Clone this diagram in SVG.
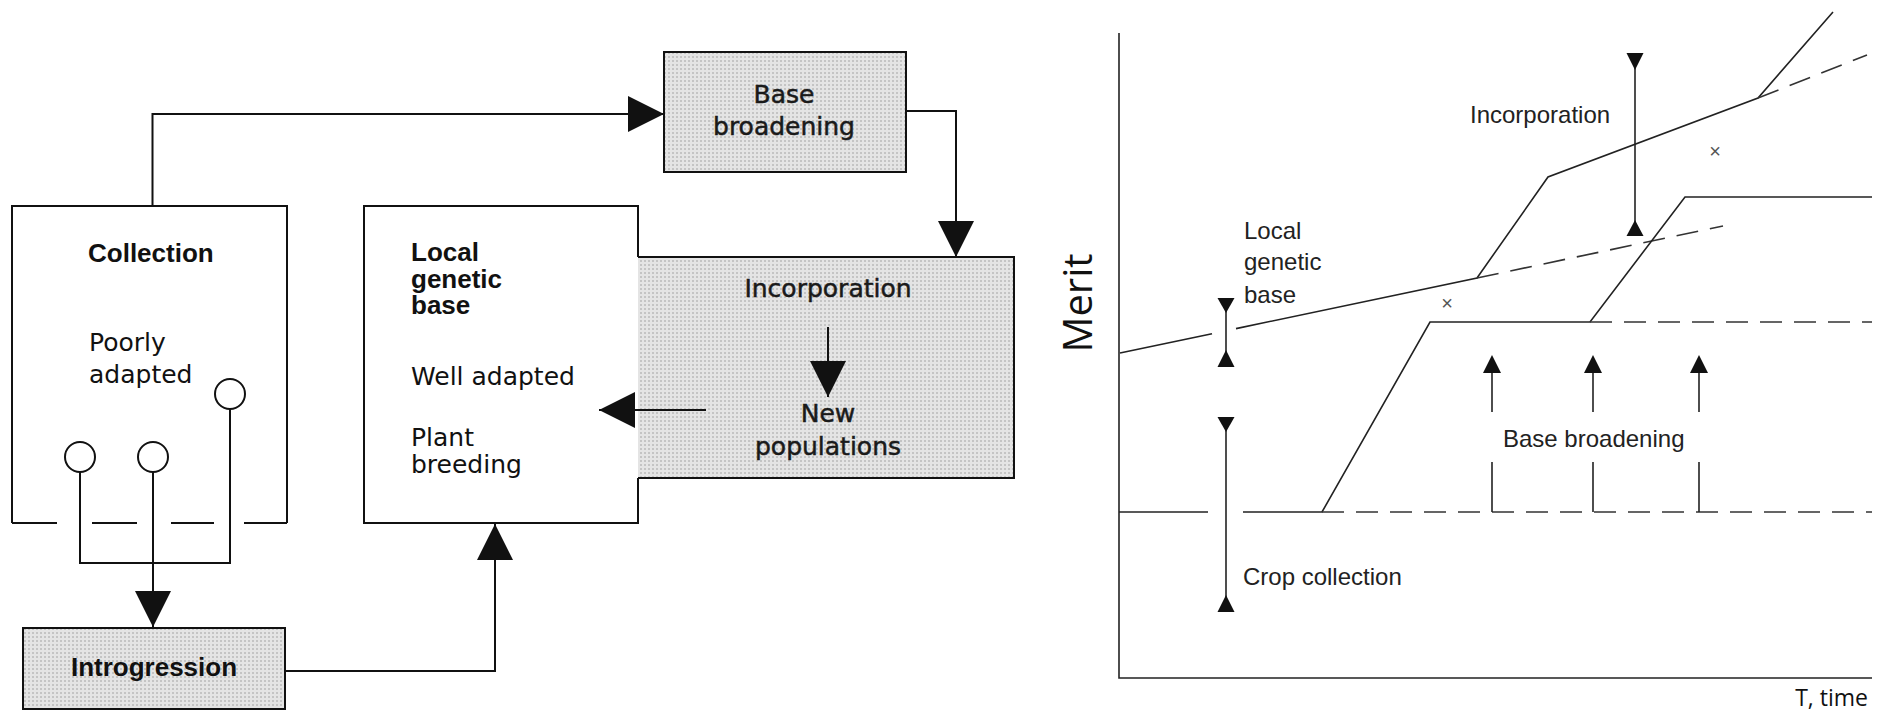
<svg xmlns="http://www.w3.org/2000/svg" width="1885" height="710" viewBox="0 0 1885 710">
<style>
.box{fill:none;stroke:#111;stroke-width:2}
.shade{fill:url(#ht);stroke:none}
.con{fill:none;stroke:#111;stroke-width:2}
.bold{font-family:"Liberation Sans",Arial,sans-serif;font-weight:bold;font-size:26px;fill:#111}
.reg{font-family:"DejaVu Sans",sans-serif;font-size:25px;fill:#111}
.med{font-family:"DejaVu Sans",sans-serif;font-size:25px;fill:#1a1a1a;stroke:#1a1a1a;stroke-width:0.5}
.ch{fill:none;stroke:#222;stroke-width:1.6}
.chd{fill:none;stroke:#333;stroke-width:1.6;stroke-dasharray:22 12}
.cht{font-family:"Liberation Sans",Arial,sans-serif;font-size:24px;fill:#222}
.ax{font-family:"Open Sans","Liberation Sans",sans-serif;fill:#111}
.tri{fill:#111;stroke:none}
</style>
<defs>
<pattern id="ht" width="4" height="4" patternUnits="userSpaceOnUse">
<rect width="4" height="4" fill="#e4e4e4"/>
<rect width="2" height="2" fill="#c4c4c4"/>
</pattern>
<marker id="ah" viewBox="0 0 36 36" refX="36" refY="18" markerWidth="36" markerHeight="36" markerUnits="userSpaceOnUse" orient="auto">
<path d="M0,0 L36,18 L0,36 Z" fill="#111"/>
</marker>
</defs>
<rect width="1885" height="710" fill="#fff"/>

<g id="collection">
<path class="box" d="M12,523 V206 H287 V523"/>
<path class="box" d="M12,523 H57 M92,523 H137 M171,523 H214 M244,523 H287"/>
<text class="bold" x="88" y="262">Collection</text>
<text class="reg" x="89" y="351">Poorly</text>
<text class="reg" x="89" y="383">adapted</text>
<ellipse cx="80" cy="457" rx="15" ry="15" fill="#fff" stroke="#111" stroke-width="2"/>
<ellipse cx="153" cy="457" rx="15" ry="15" fill="#fff" stroke="#111" stroke-width="2"/>
<ellipse cx="230" cy="394" rx="15" ry="15" fill="#fff" stroke="#111" stroke-width="2"/>
</g>

<g id="base-broadening">
<rect class="shade" x="664" y="52" width="242" height="120"/>
<rect class="box" x="664" y="52" width="242" height="120"/>
<text class="med" x="784" y="103" text-anchor="middle">Base</text>
<text class="med" x="784" y="135" text-anchor="middle">broadening</text>
</g>

<g id="local-genetic-base">
<rect x="364" y="206" width="274" height="317" fill="#fff"/>
<path class="box" d="M638,257 V206 H364 V523 H638 V478"/>
<text class="bold" x="411" y="261" font-size="22">Local</text>
<text class="bold" x="411" y="287.5" font-size="22">genetic</text>
<text class="bold" x="411" y="314" font-size="22">base</text>
<text class="reg" x="411" y="385">Well adapted</text>
<text class="reg" x="411" y="446">Plant</text>
<text class="reg" x="411" y="473">breeding</text>
</g>

<g id="incorporation">
<rect class="shade" x="638" y="257" width="376" height="221"/>
<path class="box" d="M638,257 H1014 V478 H638"/>
<text class="med" x="828" y="297" text-anchor="middle">Incorporation</text>
<text class="med" x="828" y="422" text-anchor="middle">New</text>
<text class="med" x="828" y="455" text-anchor="middle">populations</text>
</g>

<g id="introgression">
<rect class="shade" x="23" y="628" width="262" height="81"/>
<rect class="box" x="23" y="628" width="262" height="81"/>
<text class="bold" x="154" y="676" text-anchor="middle">Introgression</text>
</g>

<g id="connectors">
<path class="con" d="M152.5,206 V114 H664" marker-end="url(#ah)"/>
<path class="con" d="M906,111 H956 V257" marker-end="url(#ah)"/>
<path class="con" d="M828,327 V397" marker-end="url(#ah)"/>
<path class="con" d="M706,410 H599" marker-end="url(#ah)"/>
<path class="con" d="M80,472 V563 H230 V409"/>
<path class="con" d="M153,472 V627" marker-end="url(#ah)"/>
<path class="con" d="M285,671 H495 V524" marker-end="url(#ah)"/>
</g>

<g id="chart">
<path class="ch" d="M1119,33 V678 H1872" stroke-width="2"/>
<text class="ax" font-size="40" transform="translate(1092,303) rotate(-90)" text-anchor="middle">Merit</text>
<text class="ax" font-size="23" x="1868" y="706" text-anchor="end">T, time</text>

<path class="ch" d="M1120,353 L1212,333.7"/>
<path class="ch" d="M1236,328.6 L1477,278 L1548,177 L1758,98 L1833,12"/>
<path class="chd" d="M1477,278 L1723,226"/>
<path class="chd" d="M1758,98 L1867,55"/>

<path class="ch" d="M1119,512 H1208"/>
<path class="ch" d="M1243,512 H1322 L1430,322 H1590 L1685,197 H1872"/>
<path class="chd" d="M1322,512 H1872"/>
<path class="chd" d="M1590,322 H1872"/>

<path class="ch" d="M1226,310 V352"/>
<polygon class="tri" points="1217.5,298 1234.5,298 1226,313"/>
<polygon class="tri" points="1217.5,367 1234.5,367 1226,350"/>
<path class="ch" d="M1226,430 V597"/>
<polygon class="tri" points="1217.5,417 1234.5,417 1226,432"/>
<polygon class="tri" points="1217.5,612 1234.5,612 1226,595"/>
<path class="ch" d="M1635,68 V222"/>
<polygon class="tri" points="1626.5,53 1643.5,53 1635,70"/>
<polygon class="tri" points="1626.5,236 1643.5,236 1635,220"/>

<path class="ch" d="M1492,371 V412 M1492,462 V512"/>
<polygon class="tri" points="1483,373 1501,373 1492,355"/>
<path class="ch" d="M1593,371 V412 M1593,462 V512"/>
<polygon class="tri" points="1584,373 1602,373 1593,355"/>
<path class="ch" d="M1699,371 V412 M1699,462 V512"/>
<polygon class="tri" points="1690,373 1708,373 1699,355"/>

<text class="cht" x="1244" y="239">Local</text>
<text class="cht" x="1244" y="270">genetic</text>
<text class="cht" x="1244" y="303">base</text>
<text class="cht" x="1470" y="123">Incorporation</text>
<text class="cht" x="1503" y="447">Base broadening</text>
<text class="cht" x="1243" y="585">Crop collection</text>
<text x="1447" y="310" font-family="Liberation Sans, Arial, sans-serif" font-size="20" fill="#555" text-anchor="middle">×</text>
<text x="1715" y="158" font-family="Liberation Sans, Arial, sans-serif" font-size="20" fill="#555" text-anchor="middle">×</text>
</g>
</svg>
